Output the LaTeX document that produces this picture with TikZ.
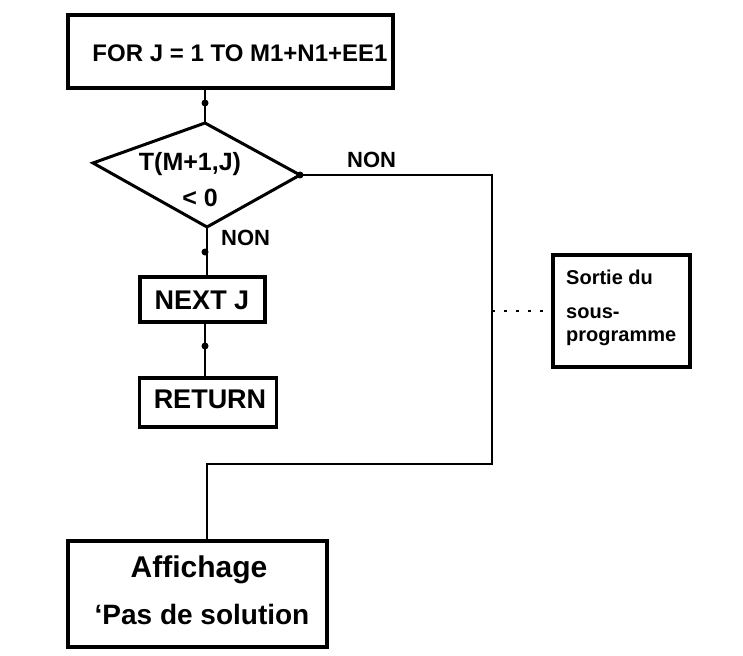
\documentclass[tikz,border=0pt]{standalone}
\usepackage{fontspec}
\setmainfont{Liberation Sans}
\begin{document}
\begin{tikzpicture}[x=1pt,y=-1pt,
  boxst/.style={draw,line width=3.2pt,rectangle,inner sep=0pt},
  wire/.style={line width=2.6pt},
  dotline/.style={line width=2.8pt,dash pattern=on 3pt off 9pt},
  blob/.style={fill,circle,inner sep=0pt,minimum size=7pt},
  txt/.style={font=\bfseries,inner sep=0pt}
]
\useasboundingbox (0,0) rectangle (743,655);
\fill[white] (0,0) rectangle (743,655);

% boxes
\node[boxst,minimum width=325pt,minimum height=73pt] (top) at (230.5,51.5) {};
\node[txt,font=\bfseries\fontsize{24}{24}\selectfont] (toptxt) at (240,53) {FOR J = 1 TO M1+N1+EE1};

\coordinate (dT) at (205,123);
\coordinate (dR) at (300,175);
\coordinate (dB) at (207,227);
\coordinate (dL) at (93,163);
\draw[line width=3pt,line join=miter] (dT) -- (dR) -- (dB) -- (dL) -- cycle;
\node[txt,font=\bfseries\fontsize{25}{25}\selectfont] (cond1) at (190,164) {T(M+1,J)};
\node[txt,font=\bfseries\fontsize{25}{25}\selectfont] (cond2) at (200,198) {< 0};

\node[boxst,minimum width=125pt,minimum height=45pt] (next) at (202.5,299.5) {};
\node[txt,font=\bfseries\fontsize{27}{27}\selectfont] (nexttxt) at (202,300) {NEXT J};

\node[boxst,minimum width=137pt,minimum height=49pt] (ret) at (208,402.5) {};
\node[txt,font=\bfseries\fontsize{27}{27}\selectfont] (rettxt) at (210,399) {RETURN};

\node[boxst,minimum width=137pt,minimum height=112pt] (sortie) at (621.5,311) {};
\node[txt,font=\bfseries\fontsize{20}{20}\selectfont,anchor=west] (s1) at (566,277) {Sortie du};
\node[txt,font=\bfseries\fontsize{20}{20}\selectfont,anchor=west] (s2) at (566,313) {sous-};
\node[txt,font=\bfseries\fontsize{20}{20}\selectfont,anchor=west] (s3) at (566,338) {programme};

\node[boxst,minimum width=259pt,minimum height=106pt] (aff) at (197.5,594) {};
\node[txt,font=\bfseries\fontsize{30}{30}\selectfont] (a1) at (199,570) {Affichage};
\node[txt,font=\bfseries\fontsize{28}{28}\selectfont] (a2) at (202,614) {`Pas de solution};

% labels
\node[txt,font=\bfseries\fontsize{22}{22}\selectfont,anchor=west] (non1) at (221,238) {NON};
\node[txt,font=\bfseries\fontsize{22}{22}\selectfont,anchor=west] (non2) at (347,160) {NON};

% connectors
\coordinate (c1) at (492,175);
\coordinate (c2) at (492,464);
\coordinate (c3) at (207,464);
\coordinate (c4) at (492,311);
\draw[wire] (top.south -| dT) -- (dT);
\draw[wire] (dB) -- (dB |- next.north);
\draw[wire] (next.south -| dT) -- (ret.north -| dT);
\draw[wire,line join=miter] (dR) -- (c1) -- (c2) -- (c3) -- (c3 |- aff.north);
\draw[dotline] (c4) -- (c4 -| sortie.west);

% small marks on the lines
\node[blob] (m1) at (205,103) {};
\node[blob] (m2) at (205,252) {};
\node[blob] (m3) at (205,346) {};
\node[blob] (m4) at (dR) {};
\end{tikzpicture}
\end{document}
